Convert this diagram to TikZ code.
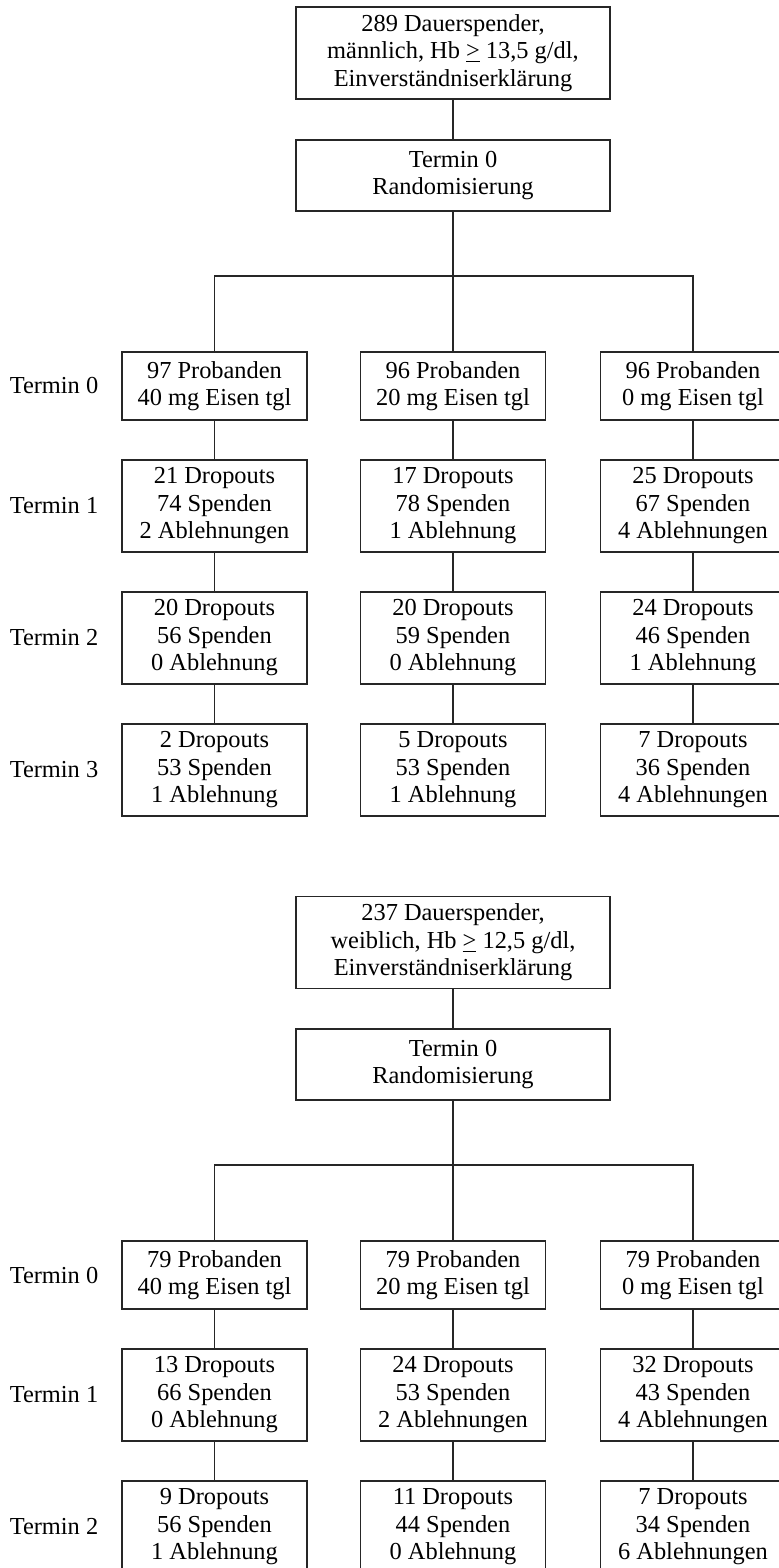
\documentclass[tikz,border=0pt]{standalone}
\usepackage{fontspec}
\setmainfont{Liberation Serif}
\begin{document}
\begin{tikzpicture}[x=0.5pt,y=-0.5pt,
  box/.style={draw=black!85, line width=0.65pt, inner sep=0pt, align=center, font=\fontsize{12.2}{13.75}\selectfont},
  wide/.style={box, minimum width=157pt},
  arm/.style={box, minimum width=92.5pt},
  two/.style={minimum height=34pt},
  three/.style={minimum height=46pt},
  termin/.style={inner sep=0pt, font=\fontsize{12.2}{13.75}\selectfont},
  link/.style={draw=black!85, line width=0.65pt}]
\useasboundingbox (0,0) rectangle (778,1568);
% maennlich
\node [wide, minimum height=46pt] (m) at (453,53) {289 Dauerspender,\\ männlich, Hb \underline{>} 13,5 g/dl,\\ Einverständniserklärung};
\node [wide, minimum height=35.5pt] (mr) at (453,175.5) {Termin 0\\ Randomisierung};
\coordinate (msplit) at (453,276);
\node [termin] (mt0) at (54,386) {Termin 0};
\node [termin] (mt1) at (54,506) {Termin 1};
\node [termin] (mt2) at (54,638) {Termin 2};
\node [termin] (mt3) at (54,770) {Termin 3};
\node [arm, two] (ma0) at (214.5,386) {97 Probanden\\ 40 mg Eisen tgl};
\node [arm, two] (mb0) at (453,386) {96 Probanden\\ 20 mg Eisen tgl};
\node [arm, two] (mc0) at (693,386) {96 Probanden\\ 0 mg Eisen tgl};
\node [arm, three] (ma1) at (214.5,506) {21 Dropouts\\ 74 Spenden\\ 2 Ablehnungen};
\node [arm, three] (mb1) at (453,506) {17 Dropouts\\ 78 Spenden\\ 1 Ablehnung};
\node [arm, three] (mc1) at (693,506) {25 Dropouts\\ 67 Spenden\\ 4 Ablehnungen};
\node [arm, three] (ma2) at (214.5,638) {20 Dropouts\\ 56 Spenden\\ 0 Ablehnung};
\node [arm, three] (mb2) at (453,638) {20 Dropouts\\ 59 Spenden\\ 0 Ablehnung};
\node [arm, three] (mc2) at (693,638) {24 Dropouts\\ 46 Spenden\\ 1 Ablehnung};
\node [arm, three] (ma3) at (214.5,770) {2 Dropouts\\ 53 Spenden\\ 1 Ablehnung};
\node [arm, three] (mb3) at (453,770) {5 Dropouts\\ 53 Spenden\\ 1 Ablehnung};
\node [arm, three] (mc3) at (693,770) {7 Dropouts\\ 36 Spenden\\ 4 Ablehnungen};
\draw [link] (m) -- (mr);
\draw [link] (mr) -- (msplit) -- (mb0);
\draw [link] (ma0) -- (ma0 |- msplit) -- (mc0 |- msplit) -- (mc0);
\draw [link] (ma0) -- (ma1) -- (ma2) -- (ma3);
\draw [link] (mb0) -- (mb1) -- (mb2) -- (mb3);
\draw [link] (mc0) -- (mc1) -- (mc2) -- (mc3);
% weiblich
\node [wide, minimum height=46pt] (w) at (453,942.5) {237 Dauerspender,\\ weiblich, Hb \underline{>} 12,5 g/dl,\\ Einverständniserklärung};
\node [wide, minimum height=35.5pt] (wr) at (453,1064.5) {Termin 0\\ Randomisierung};
\coordinate (wsplit) at (453,1165);
\node [termin] (wt0) at (54,1275) {Termin 0};
\node [termin] (wt1) at (54,1395) {Termin 1};
\node [termin] (wt2) at (54,1527) {Termin 2};
\node [arm, two] (wa0) at (214.5,1275) {79 Probanden\\ 40 mg Eisen tgl};
\node [arm, two] (wb0) at (453,1275) {79 Probanden\\ 20 mg Eisen tgl};
\node [arm, two] (wc0) at (693,1275) {79 Probanden\\ 0 mg Eisen tgl};
\node [arm, three] (wa1) at (214.5,1395) {13 Dropouts\\ 66 Spenden\\ 0 Ablehnung};
\node [arm, three] (wb1) at (453,1395) {24 Dropouts\\ 53 Spenden\\ 2 Ablehnungen};
\node [arm, three] (wc1) at (693,1395) {32 Dropouts\\ 43 Spenden\\ 4 Ablehnungen};
\node [arm, three] (wa2) at (214.5,1527) {9 Dropouts\\ 56 Spenden\\ 1 Ablehnung};
\node [arm, three] (wb2) at (453,1527) {11 Dropouts\\ 44 Spenden\\ 0 Ablehnung};
\node [arm, three] (wc2) at (693,1527) {7 Dropouts\\ 34 Spenden\\ 6 Ablehnungen};
\draw [link] (w) -- (wr);
\draw [link] (wr) -- (wsplit) -- (wb0);
\draw [link] (wa0) -- (wa0 |- wsplit) -- (wc0 |- wsplit) -- (wc0);
\draw [link] (wa0) -- (wa1) -- (wa2);
\draw [link] (wb0) -- (wb1) -- (wb2);
\draw [link] (wc0) -- (wc1) -- (wc2);
\end{tikzpicture}
\end{document}
